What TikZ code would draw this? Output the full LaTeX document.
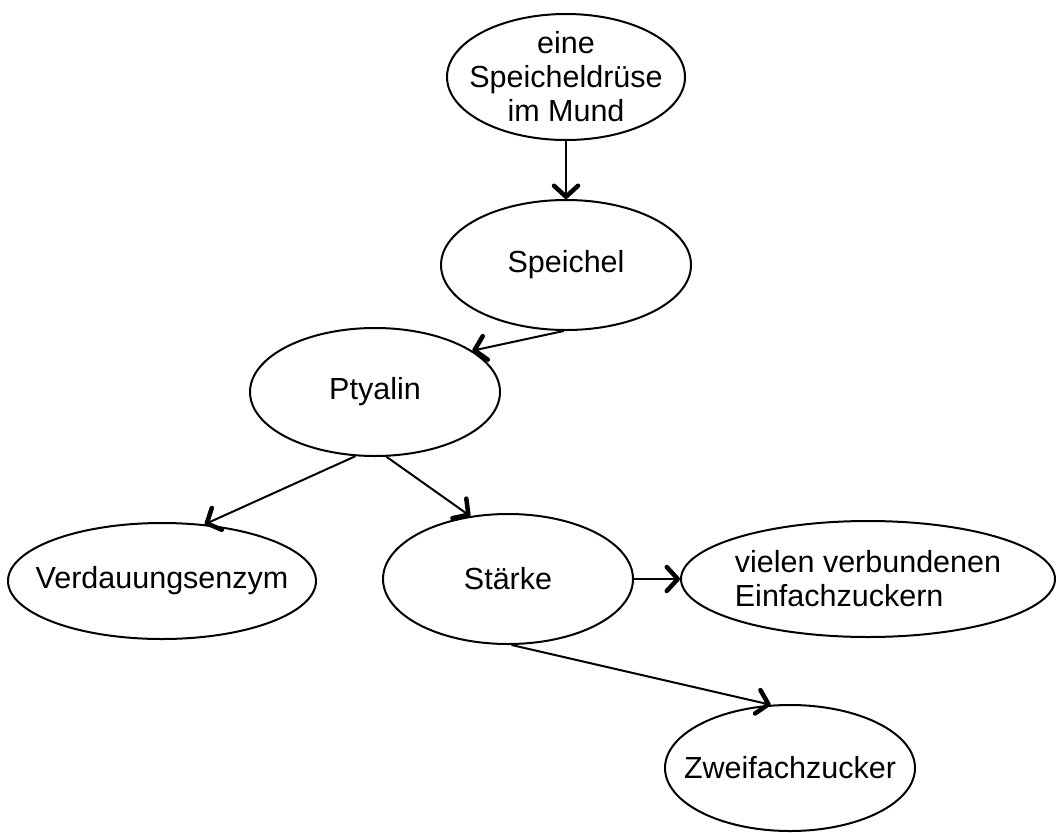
\documentclass[tikz,border=0pt]{standalone}
\usepackage{fontspec}
\setmainfont{Liberation Sans}
\usetikzlibrary{shapes.geometric,arrows.meta}
\begin{document}
\begin{tikzpicture}[x=1pt,y=-1pt,
 bubble/.style={draw, ellipse, line width=2pt, inner sep=-50pt, font=\fontsize{30.5}{34}\selectfont, align=center},
 link/.style={line width=2pt, -{Straight Barb[length=11pt,width=24pt,line width=4.5pt,round]}}]
\useasboundingbox (0,0) rectangle (1056,832);
\node[bubble, minimum width=238pt, minimum height=126pt] (druese) at (566,77) {eine\\Speicheldrüse\\im Mund};
\node[bubble, minimum width=250pt, minimum height=130pt] (speichel) at (566,265) {Speichel};
\node[bubble, minimum width=250pt, minimum height=128pt] (ptyalin) at (375,392) {Ptyalin};
\node[bubble, minimum width=308pt, minimum height=116pt] (verdau) at (162,581) {Verdauungsenzym};
\node[bubble, minimum width=250pt, minimum height=130pt] (staerke) at (508,579) {Stärke};
\node[bubble, minimum width=374pt, minimum height=116pt, align=left] (vielen) at (868,579) {vielen verbundenen\\Einfachzuckern};
\node[bubble, minimum width=250pt, minimum height=126pt] (zweifach) at (790,768) {Zweifachzucker};
\draw[link] (druese.south) -- (speichel.north);
\draw[link] (speichel.-92) -- (ptyalin.23);
\draw[link] (ptyalin.253) -- (verdau.53);
\draw[link] (ptyalin.-80) -- (staerke.121);
\draw[link] (staerke.east) -- (vielen.west);
\draw[link] (staerke.-87) -- (zweifach.107);
\end{tikzpicture}
\end{document}
